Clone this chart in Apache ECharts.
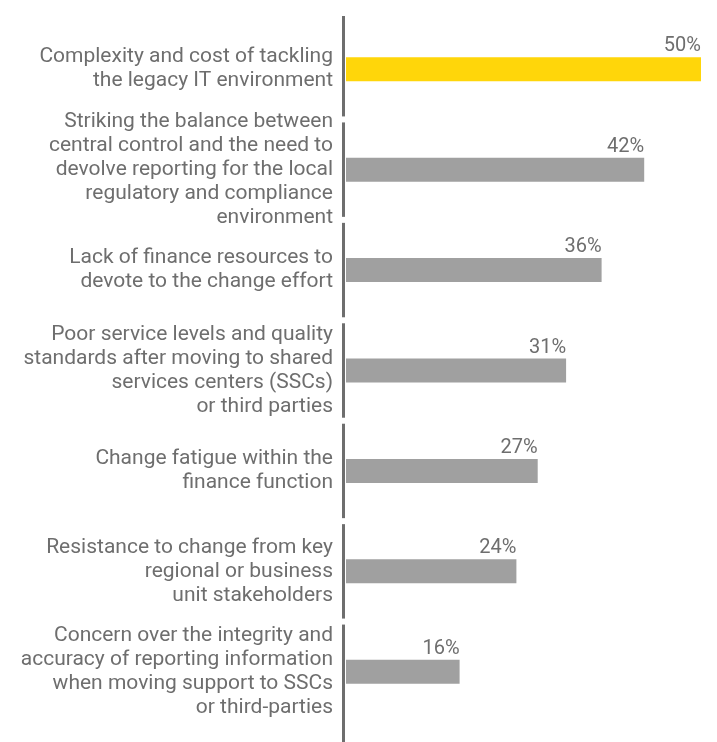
<!DOCTYPE html>
<html>
<head>
<meta charset="utf-8">
<style>
    html, body { margin: 0; padding: 0; background: #fff; }
    #chart { width: 717px; height: 742px; }
</style>
<script src="https://cdn.jsdelivr.net/npm/echarts@6/dist/echarts.min.js"></script>
</head>
<body>
<div id="chart"></div>
<script>
(function () {
    'use strict';

    var categories = [
        'Complexity and cost of tackling\nthe legacy IT environment',
        'Striking the balance between\ncentral control and the need to\ndevolve reporting for the local\nregulatory and compliance\nenvironment',
        'Lack of finance resources to\ndevote to the change effort',
        'Poor service levels and quality\nstandards after moving to shared\nservices centers (SSCs)\nor third parties',
        'Change fatigue within the\nfinance function',
        'Resistance to change from key\nregional or business\nunit stakeholders',
        'Concern over the integrity and\naccuracy of reporting information\nwhen moving support to SSCs\nor third-parties'
    ];
    var values = [50, 42, 36, 31, 27, 24, 16];
    var highlightIndex = 0;

    var textColor = '#6e6e6e';
    var fontFamily = 'Roboto, "Liberation Sans", sans-serif';

    var barData = values.map(function (v, i) {
        return {
            value: v,
            itemStyle: { color: i === highlightIndex ? '#ffd60a' : '#a0a0a0' }
        };
    });

    var segmentData = categories.map(function (c, i) {
        return [0, i];
    });

    var chart = echarts.init(document.getElementById('chart'));

    chart.setOption({
        animation: false,
        textStyle: { fontFamily: fontFamily },
        grid: {
            left: 346,
            right: 16,
            top: 19,
            bottom: 20
        },
        xAxis: {
            type: 'value',
            min: 0,
            max: 50,
            show: false
        },
        yAxis: {
            type: 'category',
            data: categories,
            inverse: true,
            axisLine: { show: false },
            axisTick: { show: false },
            splitLine: { show: false },
            axisLabel: {
                margin: 13,
                fontSize: 21,
                lineHeight: 24,
                color: textColor,
                fontFamily: fontFamily,
                align: 'right'
            }
        },
        series: [{
            type: 'bar',
            data: barData,
            barWidth: 24,
            label: {
                show: true,
                position: ['100%', -1],
                align: 'right',
                verticalAlign: 'bottom',
                formatter: '{c}%',
                fontSize: 20,
                color: textColor,
                fontFamily: fontFamily
            }
        }, {
            type: 'custom',
            data: segmentData,
            encode: { x: 0, y: 1 },
            z: 5,
            renderItem: function (params, api) {
                var idx = api.value(1);
                var c = api.coord([0, idx]);
                var h = api.size([0, 1])[1];
                var top = c[1] - h / 2 + 3;
                var bottom = c[1] + h / 2 - 3;
                if (idx === 0) {
                    top -= 6;
                }
                if (idx === categories.length - 1) {
                    bottom = api.getHeight();
                }
                return {
                    type: 'rect',
                    shape: { x: c[0] - 4, y: top, width: 3, height: bottom - top },
                    style: { fill: '#6e6e6e' }
                };
            }
        }]
    });
}());
</script>
</body>
</html>
